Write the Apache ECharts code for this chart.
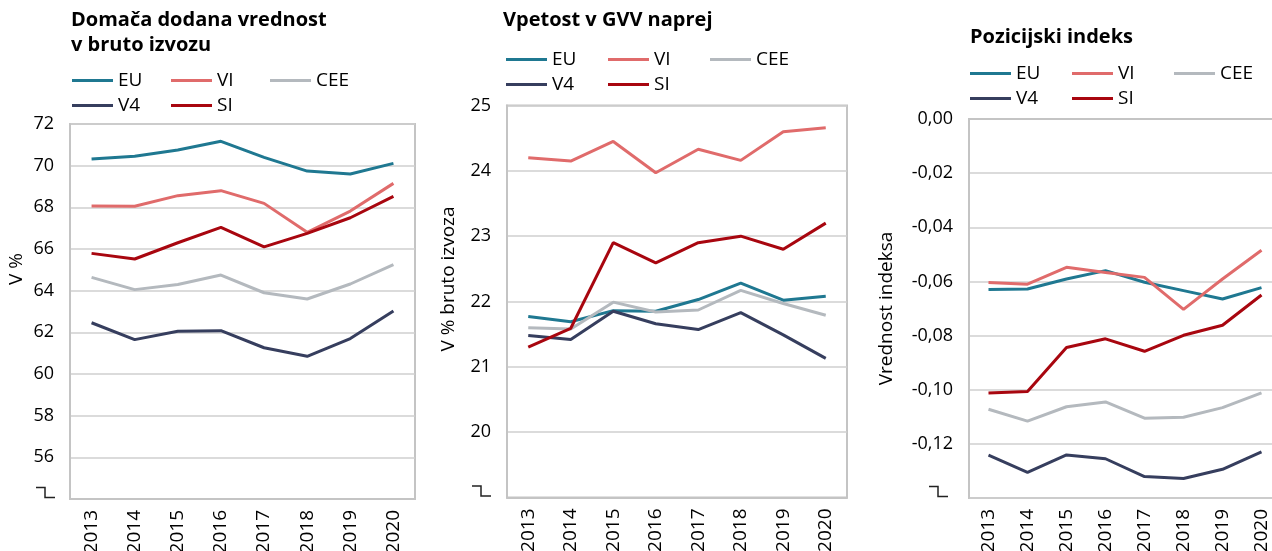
<!DOCTYPE html>
<html>
<head>
<meta charset="utf-8">
<script src="https://cdn.jsdelivr.net/npm/echarts@6/dist/echarts.min.js"></script>
<style>
  html, body { margin: 0; padding: 0; background: #fff; }
  #chart { width: 1272px; height: 551px; }
</style>
</head>
<body>
<div id="chart"></div>
<script>
// categories
const years = ["2013", "2014", "2015", "2016", "2017", "2018", "2019", "2020"];
const seriesNames = ["EU", "VI", "CEE", "V4", "SI"];

// Domača dodana vrednost v bruto izvozu (V %)
const dvEU = [70.32, 70.45, 70.75, 71.17, 70.4, 69.74, 69.6, 70.11];
const dvVI = [68.06, 68.05, 68.56, 68.8, 68.19, 66.8, 67.82, 69.15];
const dvCEE = [64.64, 64.05, 64.3, 64.75, 63.9, 63.6, 64.32, 65.25];
const dvV4 = [62.46, 61.65, 62.05, 62.08, 61.26, 60.85, 61.7, 63.02];
const dvSI = [65.79, 65.52, 66.3, 67.04, 66.1, 66.75, 67.5, 68.53];

// Vpetost v GVV naprej (V % bruto izvoza)
const gvvEU = [21.77, 21.69, 21.86, 21.85, 22.03, 22.28, 22.02, 22.08];
const gvvVI = [24.2, 24.15, 24.45, 23.97, 24.33, 24.16, 24.6, 24.66];
const gvvCEE = [21.6, 21.58, 21.99, 21.84, 21.87, 22.17, 21.97, 21.79];
const gvvV4 = [21.48, 21.42, 21.85, 21.66, 21.57, 21.83, 21.49, 21.13];
const gvvSI = [21.3, 21.59, 22.9, 22.59, 22.9, 23.0, 22.8, 23.2];

// Pozicijski indeks (vrednost indeksa)
const pozEU = [-0.063, -0.0628, -0.0591, -0.056, -0.0603, -0.0634, -0.0665, -0.0623];
const pozVI = [-0.0604, -0.061, -0.0548, -0.0567, -0.0585, -0.0703, -0.0591, -0.0485];
const pozCEE = [-0.1072, -0.1116, -0.1063, -0.1045, -0.1105, -0.1102, -0.1066, -0.1012];
const pozV4 = [-0.1242, -0.1305, -0.1241, -0.1255, -0.1321, -0.1328, -0.1294, -0.123];
const pozSI = [-0.1012, -0.1007, -0.0844, -0.0812, -0.0858, -0.0799, -0.0762, -0.065];

const colors = {
  EU: "#1f7891",
  VI: "#e06b6b",
  CEE: "#b4b9be",
  V4: "#363e5e",
  SI: "#a8060f",
};

const font = '"Open Sans", sans-serif';
const frameColor = "#c4c4c4";

const panels = [
  {
    title: "Domača dodana vrednost\nv bruto izvozu",
    titlePos: [71, 8],
    legendPos: [72, 71],
    textW: 47,
    grid: { left: 70, top: 124, width: 345, height: 375 },
    yName: "V %",
    nameGap: 44,
    namePad: 85,
    min: 54, max: 72, interval: 2,
    brkGap: 15,
    fmt: (v) => String(v),
    data: { EU: dvEU, VI: dvVI, CEE: dvCEE, V4: dvV4, SI: dvSI },
  },
  {
    title: "Vpetost v GVV naprej",
    titlePos: [503, 8],
    legendPos: [506, 50],
    textW: 50,
    grid: { left: 507, top: 105.5, width: 340, height: 392 },
    yName: "V % bruto izvoza",
    nameGap: 49,
    namePad: 45,
    min: 19, max: 25, interval: 1,
    brkGap: 16,
    fmt: (v) => String(v),
    data: { EU: gvvEU, VI: gvvVI, CEE: gvvCEE, V4: gvvV4, SI: gvvSI },
  },
  {
    title: "Pozicijski indeks",
    titlePos: [970, 25],
    legendPos: [970, 64],
    textW: 50,
    grid: { left: 969, top: 119, width: 312, height: 379 },
    yName: "Vrednost indeksa",
    nameGap: 73,
    namePad: 0,
    min: -0.14, max: 0, interval: 0.02,
    brkGap: 21,
    fmt: (v) => v.toFixed(2).replace(".", ","),
    data: { EU: pozEU, VI: pozVI, CEE: pozCEE, V4: pozV4, SI: pozSI },
  },
];

const chart = echarts.init(document.getElementById("chart"));

const option = {
  animation: false,
  backgroundColor: "#fff",
  textStyle: { fontFamily: font },
  title: panels.map((p) => ({
    text: p.title,
    left: p.titlePos[0],
    top: p.titlePos[1],
    padding: 0,
    textStyle: {
      fontFamily: font,
      fontSize: 20,
      fontWeight: "bold",
      lineHeight: 25,
      color: "#000",
    },
  })),
  legend: panels.map((p) => ({
    data: seriesNames,
    left: p.legendPos[0],
    top: p.legendPos[1],
    width: 3 * (41 + 5 + p.textW) + 2 * 6 + 8,
    padding: 0,
    icon: "rect",
    itemWidth: 41,
    itemHeight: 3,
    itemGap: 6,
    textStyle: {
      fontFamily: font,
      fontSize: 19,
      lineHeight: 18,
      width: p.textW,
      color: "#000",
    },
  })),
  grid: panels.map((p) => ({
    ...p.grid,
    show: true,
    borderColor: frameColor,
    borderWidth: 2,
    backgroundColor: "transparent",
    outerBoundsMode: "none",
  })),
  xAxis: panels.map((p, i) => ({
    type: "category",
    gridIndex: i,
    data: years,
    boundaryGap: true,
    axisLine: { lineStyle: { color: frameColor, width: 2 } },
    axisTick: { alignWithLabel: true, length: 5, lineStyle: { color: frameColor, width: 1.5 } },
    axisLabel: { rotate: 90, fontSize: 19, margin: 11, color: "#000", fontFamily: font },
    splitLine: { show: false },
  })),
  yAxis: panels.map((p, i) => ({
    type: "value",
    gridIndex: i,
    min: p.min,
    max: p.max,
    interval: p.interval,
    name: p.yName,
    nameLocation: "middle",
    nameGap: p.nameGap,
    nameMoveOverlap: false,
    nameTextStyle: {
      fontFamily: font,
      fontSize: 19,
      color: "#000",
      padding: [0, 0, 0, p.namePad],
    },
    axisLine: { show: true, lineStyle: { color: frameColor, width: 2 } },
    axisTick: { show: false },
    axisLabel: {
      fontSize: 18,
      margin: 16,
      color: "#000",
      fontFamily: font,
      formatter: (v) => (Math.abs(v - p.min) < 1e-9 ? "" : p.fmt(v)),
    },
    splitLine: { lineStyle: { color: "#cfcfcf", width: 1.5 } },
  })),
  series: [],
};

panels.forEach((p, i) => {
  seriesNames.forEach((name) => {
    option.series.push({
      type: "line",
      name,
      xAxisIndex: i,
      yAxisIndex: i,
      data: p.data[name],
      symbol: "none",
      lineStyle: { width: 3, color: colors[name] },
      itemStyle: { color: colors[name] },
      emphasis: { disabled: true },
    });
  });
});

chart.setOption(option);

// axis break marks where the lowest tick label would sit
const breaks = panels.map((p, i) => {
  const y = chart.convertToPixel({ yAxisIndex: i }, p.min) - 1.5;
  const r = p.grid.left - p.brkGap;
  return {
    type: "polyline",
    silent: true,
    shape: { points: [[r - 19, y - 10], [r - 10, y - 10], [r - 10, y], [r, y]] },
    style: { stroke: "#222", lineWidth: 1.5, fill: "none" },
  };
});
chart.setOption({ graphic: breaks });
</script>
</body>
</html>
